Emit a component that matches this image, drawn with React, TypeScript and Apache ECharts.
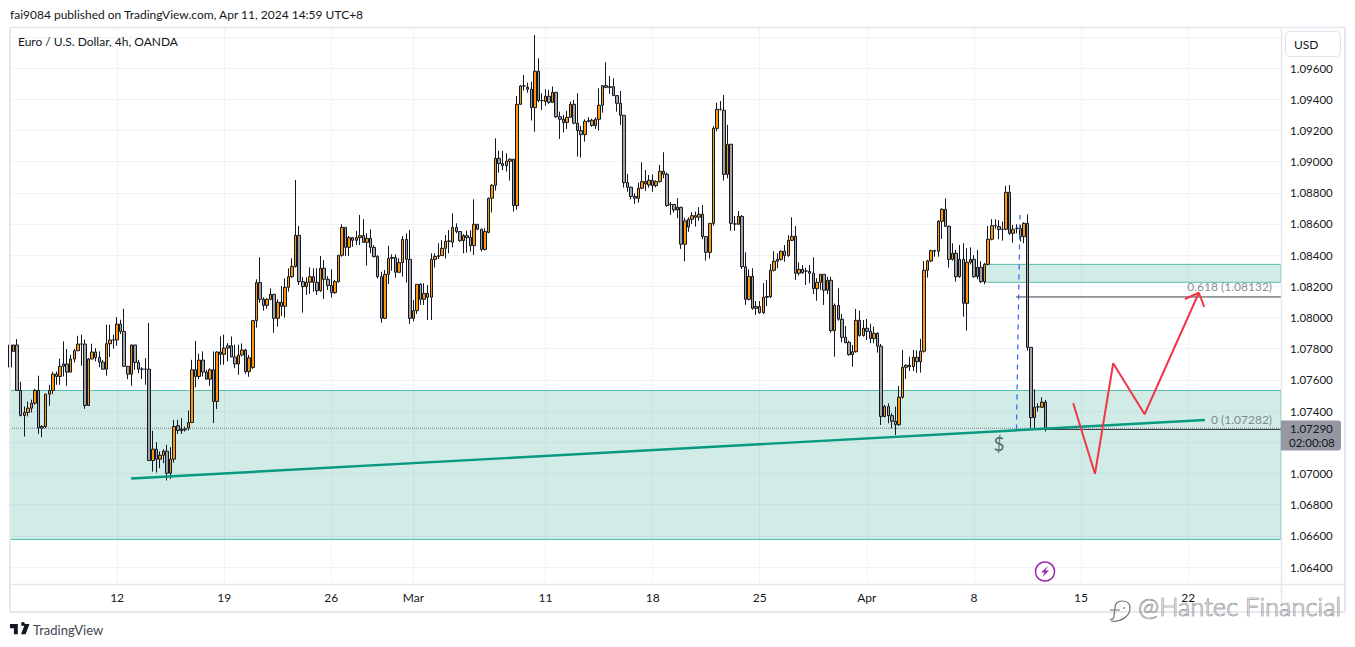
import React, { useEffect, useRef } from "react";
import * as echarts from "echarts";

type Candle = [number, number, number, number];
// Each row: open, close, low, high, in units of 0.00001.
const weekA: Candle[] = [
  [107824,107682,107682,107875],[107783,107824,107783,107824],[107824,107533,107533,107862],[107533,107372,107366,107588],
  [107372,107391,107237,107430],[107391,107419,107366,107462],[107419,107451,107391,107473],[107451,107533,107441,107543],
  [107533,107291,107254,107627],[107301,107291,107233,107310],[107301,107509,107291,107509],[107509,107533,107434,107569],
  [107533,107637,107509,107652],[107637,107622,107569,107654],[107622,107687,107569,107736],[107702,107687,107622,107847],
  [107702,107650,107562,107798],[107650,107734,107650,107761],[107734,107787,107712,107798],[107787,107830,107787,107883],
  [107830,107830,107691,107890],[107830,107436,107415,107858],[107436,107734,107436,107740],[107734,107779,107734,107832],
  [107779,107744,107719,107804],[107744,107714,107682,107783],[107714,107669,107669,107729],[107669,107832,107627,107954],
  [107832,107856,107747,107954],[107856,107856,107800,107890],
];
const weekB: Candle[] = [
  [107856,107958,107819,108003],[107958,107911,107894,107986],[107911,107687,107687,108057],[107687,107637,107605,107690],
  [107637,107824,107562,107826],[107824,107712,107665,107824],[107712,107669,107644,107729],[107669,107669,107605,107682],
  [107669,107669,107569,107740],[107669,107083,107083,107965],[107083,107156,107012,107274],[107156,107092,107006,107201],
  [107092,107117,107034,107141],[107117,107143,107066,107156],[107143,107002,106955,107184],[107002,107092,106965,107169],
  [107092,107301,107070,107344],[107306,107276,107254,107344],[107282,107274,107254,107355],[107280,107286,107269,107301],
  [107291,107327,107276,107404],[107327,107665,107323,107729],[107665,107622,107552,107851],[107622,107727,107605,107768],
  [107727,107650,107622,107783],[107650,107605,107605,107665],[107605,107665,107562,107674],[107665,107462,107323,107783],
  [107462,107779,107413,107783],[107779,107764,107697,107879],
];
const weekC: Candle[] = [
  [107764,107804,107697,107890],[107819,107804,107719,107836],[107819,107747,107747,107879],[107747,107702,107676,107826],
  [107702,107759,107633,107826],[107760,107792,107750,107834],[107792,107653,107640,107800],[107653,107742,107620,107760],
  [107680,107980,107670,107985],[107980,108224,107935,108245],[108224,108117,108095,108386],[108117,108078,108044,108130],
  [108078,108117,108057,108125],[108117,108149,108110,108187],[108149,107995,107903,108149],[107995,108098,107942,108117],
  [108098,108072,108010,108202],[108072,108194,108000,108251],[108194,108262,108166,108316],[108262,108328,108255,108380],
  [108328,108527,108320,108882],[108527,108230,108209,108587],[108230,108198,108031,108260],[108198,108226,108145,108258],
  [108226,108262,108151,108322],[108262,108226,108166,108316],[108226,108172,108145,108316],[108172,108316,108165,108395],
  [108316,108245,108119,108369],[108245,108205,108177,108265],
];
const weekD: Candle[] = [
  [108205,108160,108128,108309],[108160,108230,108151,108241],[108230,108399,108224,108399],[108399,108578,108390,108598],
  [108578,108450,108395,108578],[108450,108512,108395,108523],[108512,108495,108454,108516],[108495,108512,108465,108555],
  [108512,108525,108465,108658],[108525,108482,108480,108630],[108482,108508,108333,108540],[108508,108450,108412,108566],
  [108450,108390,108386,108465],[108392,108262,108251,108400],[108262,107995,107967,108294],[107995,108277,107990,108305],
  [108277,108380,108215,108459],[108380,108385,108300,108405],[108384,108290,108256,108405],[108290,108352,108290,108380],
  [108352,108501,108262,108523],[108501,108373,108224,108540],[108373,107995,107959,108561],[107995,108044,107975,108113],
  [108044,108213,108023,108213],[108213,108117,108081,108220],[108117,108155,108081,108220],[108155,108130,107984,108209],
  [108130,108373,107984,108412],[108373,108392,108320,108412],
];
const weekE: Candle[] = [
  [108392,108397,108375,108476],[108397,108444,108395,108497],[108444,108489,108378,108529],[108489,108491,108412,108561],
  [108482,108578,108450,108668],[108578,108551,108540,108604],[108551,108493,108485,108555],[108493,108525,108412,108535],
  [108525,108512,108416,108557],[108514,108461,108423,108560],[108461,108598,108401,108758],[108598,108566,108560,108598],
  [108566,108437,108423,108570],[108437,108551,108430,108572],[108546,108764,108540,108770],[108765,108848,108673,108855],
  [108848,109021,108814,109149],[109021,108987,108929,109070],[108987,108974,108946,109070],[108974,109002,108936,109053],
  [109002,109015,108878,109020],[109015,108718,108679,109015],[108718,109367,108690,109421],[109367,109485,109367,109490],
  [109485,109485,109455,109555],[109476,109464,109442,109506],[109464,109346,109263,109512],[109346,109579,109192,109812],
  [109579,109391,109380,109662],[109391,109391,109331,109438],
];
const weekF: Candle[] = [
  [109385,109419,109357,109464],[109419,109380,109370,109459],[109380,109444,109375,109481],[109444,109288,109280,109444],
  [109288,109271,109145,109320],[109271,109250,109186,109299],[109250,109284,109209,109325],[109284,109367,109280,109385],
  [109367,109246,109240,109395],[109246,109199,109032,109438],[109199,109173,109026,109229],[109173,109258,109128,109271],
  [109258,109263,109250,109285],[109265,109231,109224,109275],[109231,109271,109209,109284],[109271,109361,109199,109470],
  [109361,109487,109314,109490],[109487,109476,109470,109637],[109480,109476,109434,109549],[109480,109423,109423,109534],
  [109423,109374,109320,109423],[109374,109297,109235,109453],[109297,108865,108833,109297],[108865,108835,108807,108921],
  [108835,108776,108758,108840],[108776,108765,108729,108797],[108765,108829,108737,108865],[108829,108872,108825,108996],
  [108872,108857,108812,108946],[108850,108880,108833,108914],
];
const weekG: Candle[] = [
  [108880,108846,108807,108918],[108846,108872,108835,108880],[108872,108938,108865,108979],[108938,108919,108893,109060],
  [108919,108718,108710,108930],[108723,108725,108658,108740],[108725,108690,108673,108725],[108690,108707,108637,108765],
  [108707,108470,108440,108710],[108470,108620,108360,108640],[108630,108580,108550,108643],[108630,108653,108600,108675],
  [108653,108643,108583,108679],[108643,108662,108621,108707],[108662,108519,108502,108722],[108519,108418,108365,108519],
  [108418,108604,108378,108604],[108604,109213,108589,109228],[109213,109335,109194,109378],[109335,109335,109327,109388],
  [109329,108918,108878,109427],[108918,109111,108893,109235],[109111,108604,108557,109111],[108600,108600,108557,108651],
  [108598,108649,108595,108683],[108649,108326,108311,108657],[108326,108117,108081,108418],[108117,108264,108110,108309],
  [108264,108059,108050,108316],[108059,108070,108017,108106],
];
const weekH: Candle[] = [
  [108070,108031,108025,108106],[108031,108130,108023,108220],[108130,108135,108074,108241],[108134,108303,108125,108343],
  [108303,108361,108295,108425],[108361,108373,108316,108412],[108373,108425,108365,108430],[108425,108397,108358,108465],
  [108397,108495,108390,108529],[108495,108521,108490,108643],[108521,108284,108241,108587],[108284,108309,108269,108354],
  [108309,108288,108280,108337],[108298,108298,108209,108320],[108296,108284,108220,108337],[108284,108185,108151,108386],
  [108185,108226,108108,108252],[108226,108277,108177,108280],[108277,108175,108081,108277],[108175,108239,108151,108262],
  [108239,107916,107903,108262],[107916,108078,107749,108090],[108078,107989,107980,108187],[107989,107873,107841,108023],
  [107873,107839,107835,107946],[107841,107762,107755,107852],[107762,107781,107685,107824],[107781,107982,107775,108055],
  [107982,107884,107878,108044],[107884,107931,107878,107984],
];
const weekI: Candle[] = [
  [107931,107912,107856,107991],[107912,107865,107835,107960],[107865,107899,107835,107942],[107899,107816,107775,107905],
  [107816,107365,107311,107830],[107365,107429,107360,107440],[107429,107371,107322,107450],[107371,107335,107290,107386],
  [107335,107313,107247,107429],[107313,107489,107305,107561],[107489,107681,107480,107792],[107681,107694,107606,107700],
  [107694,107685,107657,107749],[107685,107745,107657,107792],[107745,107717,107647,107790],[107717,107784,107647,107863],
  [107784,108303,107775,108363],[108303,108363,108256,108370],[108363,108429,108355,108435],[108429,108425,108390,108435],
  [108425,108617,108390,108625],[108617,108694,108504,108700],[108694,108585,108580,108764],[108585,108373,108320,108590],
  [108373,108412,108365,108476],[108412,108262,108230,108433],[108373,108262,108255,108465],[108373,108091,108006,108476],
  [108091,108354,107916,108444],[108354,108373,108340,108450],
];
const weekJ: Candle[] = [
  [108373,108262,108255,108400],[108322,108262,108245,108433],[108322,108230,108222,108360],[108230,108341,108213,108350],
  [108341,108502,108335,108587],[108502,108589,108495,108630],[108589,108589,108570,108630],[108583,108564,108502,108625],
  [108566,108566,108493,108615],[108566,108803,108560,108844],[108803,108540,108530,108850],[108540,108566,108480,108594],
  [108572,108572,108540,108598],[108572,108519,108487,108594],[108519,108604,108476,108610],[108604,107809,107788,108662],
  [107809,107358,107290,107809],[107358,107425,107290,107540],[107427,107427,107397,107450],[107425,107457,107420,107489],
  [107457,107290,107269,107472],
];
const weeks = [weekA, weekB, weekC, weekD, weekE, weekF, weekG, weekH, weekI, weekJ];

const slotCount = 357;
const dateTicks: [number, string][] = [
  [30, "12"], [60, "19"], [90, "26"], [113, "Mar"], [150, "11"], [180, "18"],
  [210, "25"], [240, "Apr"], [270, "8"], [300, "15"], [330, "22"],
];
const priceGrid = [1.064,1.066,1.068,1.07,1.072,1.074,1.076,1.078,1.08,1.082,1.084,1.086,1.088,1.09,1.092,1.094,1.096,1.098];
const priceLabels = [1.064,1.066,1.068,1.07,1.074,1.076,1.078,1.08,1.082,1.084,1.086,1.088,1.09,1.092,1.094,1.096];

const bigZone = [0, 356, 1.07532, 1.06577];
const smallZone = [273, 356, 1.08341, 1.08226];
const trendLine = [[33.9, 1.06968], [334.7, 1.07343]];
const redPath = [[297.8,1.0745],[303.9,1.06997],[309,1.07707],[317.8,1.0738],[333,1.08159]];
const redHead = [[329.1,1.08119],[333,1.08159],[334.5,1.08069]];
const fibTop = [[281.8,1.08132],[356,1.08132]];
const fibZero = [[281.8,1.07282],[356,1.07282]];
const fibLink = [[281.9,1.07282],[282.9,1.08657]];
const lastPrice = [[0,1.0729],[356,1.0729]];
const notes: [number, number, string, string][] = [
  [353.5, 1.08132, "0.618 (1.08132)", "right"],
  [353.5, 1.07282, "0 (1.07282)", "right"],
];

const FONT = "Lato, 'Noto Sans', sans-serif";
const GRID = "#f0f3fa";
const EDGE = "#e6e8ef";
const INK = "#131722";

echarts.graphic.registerShape("tvMark", echarts.graphic.extendPath(
  "M14 6H2v6h6v9h6V6Zm12 15h-7l6-15h7l-6 15Zm-1-15a3 3 0 1 1-6 0 3 3 0 0 1 6 0Z", {}));
echarts.graphic.registerShape("hantecMark", echarts.graphic.extendPath(
  "M1 21C9 23 20 17 20 8C20 3 17 1 12 1C7 1 5 4 5 8L4 16C4 19 2 20 0 19M0 10L10 10M14 7L14 9", {}));

function edge(x1: number, y1: number, x2: number, y2: number, width = 1.5) {
  return { type: "line", z: 50, silent: true, shape: { x1, y1, x2, y2 }, style: { stroke: EDGE, lineWidth: width } };
}

function seg(data: number[][], color: string, width: number, type: any = "solid", z = 5) {
  return {
    type: "line", xAxisIndex: 1, yAxisIndex: 0, data, showSymbol: false, symbol: "none", silent: true, z,
    lineStyle: { color, width, type }, animation: false,
  };
}

function zone(z: number[]) {
  return {
    type: "line", xAxisIndex: 1, yAxisIndex: 0, data: [], silent: true,
    markArea: {
      silent: true,
      itemStyle: { color: "rgba(8,153,129,0.19)", borderColor: "#56bcaa", borderWidth: 1 },
      data: [[{ xAxis: z[0], yAxis: z[2] }, { xAxis: z[1], yAxis: z[3] }]],
    },
  };
}

export default function App() {
  const ref = useRef<HTMLDivElement>(null);
  useEffect(() => {
    const chart = echarts.init(ref.current!, undefined, { renderer: "svg" });
    const rows = weeks.flat().map(([o, c, l, h]) => [
      o / 1e5, c / 1e5, Math.min(o, c, l) / 1e5, Math.max(o, c, h) / 1e5,
    ]);
    const cats = Array.from({ length: slotCount }, (_, i) => {
      const hit = dateTicks.find((t) => t[0] === i);
      return hit ? hit[1] : "";
    });
    const showTick = (_i: number, v: string) => v !== "";
    chart.setOption({
      animation: false,
      backgroundColor: "#ffffff",
      grid: { left: 10, top: 28, width: 1271, height: 556, containLabel: false },
      xAxis: [
        {
          type: "category", data: cats, boundaryGap: false,
          axisLine: { show: false }, axisTick: { show: false },
          axisLabel: { interval: showTick, color: INK, fontFamily: FONT, fontSize: 12, margin: 7 },
          splitLine: { show: true, interval: showTick, lineStyle: { color: GRID, width: 1 } },
        },
        { type: "value", min: 0, max: 356, show: false, splitLine: { show: false } },
      ],
      yAxis: [{
        type: "value", position: "right", min: 1.062914, max: 1.098565, scale: true,
        axisLine: { show: false },
        axisTick: { show: false, customValues: priceGrid },
        axisLabel: { customValues: priceLabels, color: INK, fontFamily: FONT, fontSize: 11.5, margin: 9,
          formatter: (v: number) => v.toFixed(5) },
        splitLine: { show: true, lineStyle: { color: GRID, width: 1 } },
      }],
      series: [
        zone(bigZone),
        zone(smallZone),
        seg(lastPrice, "#787b86", 1, "dotted", 1),
        {
          type: "candlestick", xAxisIndex: 0, yAxisIndex: 0, data: rows, barWidth: 3, z: 3, silent: true,
          itemStyle: { color: "#ff9800", color0: "#a3a3a3", borderColor: INK, borderColor0: INK, borderColorDoji: INK, borderWidth: 1 },
        },
        seg(fibTop, "#3d3f48", 1),
        seg(fibZero, "#3d3f48", 1),
        seg(fibLink, "#2962ff", 1.2, [5, 5]),
        seg(trendLine, "#089981", 2.4),
        seg(redPath, "#f23645", 2),
        seg(redHead, "#f23645", 2),
        {
          type: "scatter", xAxisIndex: 1, yAxisIndex: 0, symbolSize: 0, silent: true, z: 6,
          data: notes.map((n) => ({ value: [n[0], n[1]], name: n[2] })),
          label: { show: true, position: "top", align: "right", distance: 4, formatter: "{b}", color: "#6a6d78", fontFamily: FONT, fontSize: 12 },
        },
        {
          type: "scatter", xAxisIndex: 1, yAxisIndex: 0, symbolSize: 0, silent: true, z: 6,
          data: [{ value: [277, 1.0719], name: "$" }],
          label: { show: true, position: "inside", formatter: "{b}", color: "#2f4a4c", fontFamily: FONT, fontSize: 19 },
        },
      ],
      graphic: [
        { type: "text", z: 60, x: 10, y: 8, style: { text: "fai9084 published on TradingView.com, Apr 11, 2024 14:59 UTC+8", fill: INK, font: `12px ${FONT}` } },
        { type: "text", z: 60, x: 18, y: 35, style: { text: "Euro / U.S. Dollar, 4h, OANDA", fill: INK, font: `12px ${FONT}` } },
        edge(10, 27.5, 1345, 27.5), edge(10, 27, 10, 612, 2), edge(1345, 27, 1345, 612, 2), edge(10, 612, 1345, 612, 2),
        edge(1281.5, 28, 1281.5, 612), edge(10, 584.5, 1345, 584.5),
        { type: "rect", z: 60, shape: { x: 1285.5, y: 31.5, width: 55, height: 25, r: 4 }, style: { fill: "#fff", stroke: "#e0e3eb", lineWidth: 1 } },
        { type: "text", z: 61, x: 1294, y: 38, style: { text: "USD", fill: INK, font: `12px ${FONT}` } },
        { type: "rect", z: 60, shape: { x: 1281, y: 420.5, width: 60, height: 30, r: [0, 3, 3, 0] }, style: { fill: "#9598a1" } },
        { type: "text", z: 61, x: 1290, y: 422, style: { text: "1.07290", fill: INK, font: `11.5px ${FONT}` } },
        { type: "text", z: 61, x: 1289, y: 436, style: { text: "02:00:08", fill: INK, font: `11.5px ${FONT}` } },
        { type: "circle", z: 60, shape: { cx: 1045, cy: 571.5, r: 9.5 }, style: { fill: "#fff", stroke: "#9c27b0", lineWidth: 1.5 } },
        { type: "polygon", z: 61, shape: { points: [[1048,566],[1041,572.5],[1044.5,572.5],[1042.5,577],[1049,570.5],[1045.5,570.5]] }, style: { fill: "#9c27b0" } },
        { type: "tvMark", z: 60, x: 8.7, y: 620, scaleX: 0.65, scaleY: 0.68, style: { fill: INK } },
        { type: "text", z: 60, x: 33, y: 623, style: { text: "TradingView", fill: "#434651", font: `13px ${FONT}` } },
        { type: "hantecMark", z: 70, x: 1110, y: 600, style: { fill: "none", stroke: "#6f6f6f", lineWidth: 1.2 } },
        { type: "text", z: 70, x: 1138, y: 593, style: { text: "@Hantec Financial", fill: "rgba(255,255,255,0.55)", stroke: "#707070", lineWidth: 0.7, font: `300 25.5px ${FONT}` } },
      ],
    });
    return () => chart.dispose();
  }, []);
  return <div ref={ref} style={{ position: "absolute", left: 0, top: 0, width: 1355, height: 647 }} />;
}
